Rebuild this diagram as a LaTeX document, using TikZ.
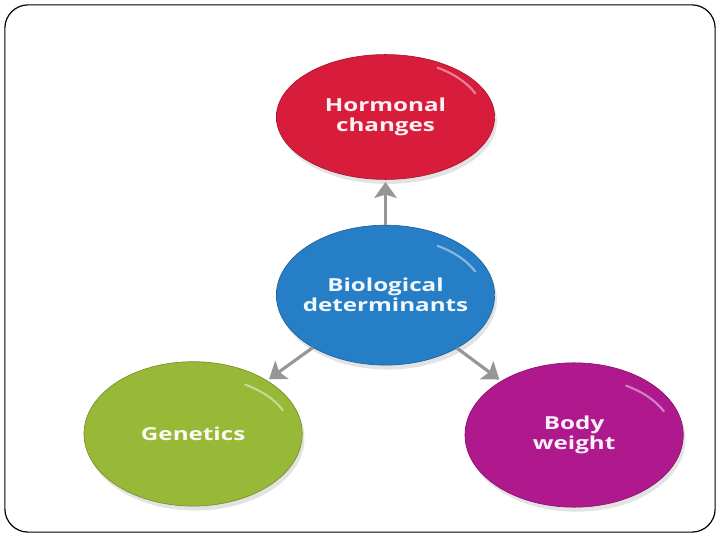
\documentclass[tikz,border=0pt]{standalone}
\usepackage{fontspec}
\newfontfamily\bubblefont[FakeStretch=1.35]{Open Sans}
\usetikzlibrary{%
  arrows.meta,%
  shapes.geometric,% wg. ellipse
  shadows% drop shadow
}
\definecolor{hormonered}{RGB}{216,28,60}
\definecolor{biologyblue}{RGB}{38,126,198}
\definecolor{geneticsgreen}{RGB}{152,184,56}
\definecolor{weightpurple}{RGB}{176,24,142}
\definecolor{arrowgray}{RGB}{150,150,152}
\pgfdeclareradialshading[rimin,rimout]{rim}{\pgfpoint{0bp}{0bp}}{%
  color(0bp)=(rimin); color(41bp)=(rimin); color(50bp)=(rimout)}
\tikzset{
  bubble/.style={ellipse, inner sep=-6mm, outer sep=0pt,
    /utils/exec={\colorlet{rimin}{#1}\colorlet{rimout}{#1!65!black}},
    shading=rim, draw=#1!78!black, line width=0.5pt,
    minimum width=5.82cm, minimum height=3.85cm,
    drop shadow={opacity=0.22, shadow xshift=0.6mm, shadow yshift=-1.2mm},
    text=white!94!#1, align=center,
    font=\bubblefont\bfseries\fontsize{13.6}{15.4}\selectfont},
  arrowline/.style={draw=arrowgray, line width=2.4pt, shorten >=2pt,
    -{Stealth[length=12pt,width=17pt,inset=2.5pt]}},
  glint/.style={white, opacity=0.45, line width=1.6pt, line cap=round}
}
\begin{document}
\begin{tikzpicture}
      \useasboundingbox (0,0) rectangle (19.2,14.4);
      \draw[line width=0.9pt, rounded corners=0.62cm] (0.13,0.21) rectangle (19.07,14.27);

      \node[bubble=hormonered, minimum height=3.33cm] (hormones) at (10.28,11.28) {Hormonal\\changes};
      \node[bubble=biologyblue, minimum height=3.73cm] (biology) at (10.28,6.53) {Biological\\determinants};
      \node[bubble=geneticsgreen] (genetics) at (5.15,2.83) {Genetics};
      \node[bubble=weightpurple] (weight) at (15.31,2.8) {Body\\weight};

      \foreach \n in {hormones,biology,genetics,weight}
        \draw[glint] ([shift={(24:2.62cm and 1.55cm)}]\n.center) arc[start angle=24, end angle=58, x radius=2.62cm, y radius=1.55cm];

      \path [arrowline] (biology) -- (hormones);
      \path [arrowline] (biology) -- (genetics);
      \path [arrowline] (biology) -- (weight);
\end{tikzpicture}
\end{document}
